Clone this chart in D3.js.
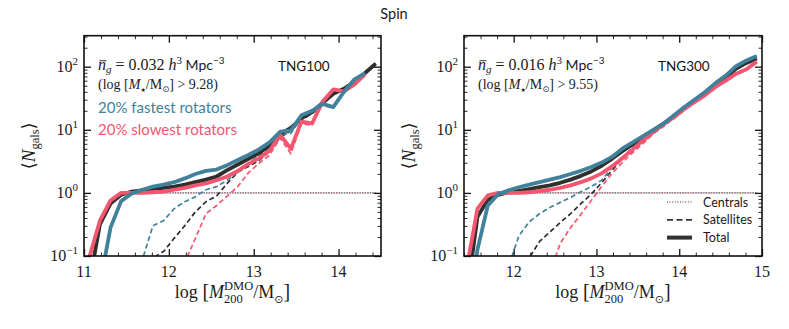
<!DOCTYPE html>
<html lang="en">
<head>
<meta charset="UTF-8">
<title>Spin</title>
<script src="https://d3js.org/d3.v7.min.js"></script>
<style>
  body { margin: 0; background: #fff; }
  .sans { font-family: Lato, "DejaVu Sans", sans-serif; }
  .serif { font-family: "Liberation Serif", "DejaVu Serif", serif; }
  .sym { font-family: "DejaVu Sans", sans-serif; }
</style>
</head>
<body>
<svg id="chart" width="789" height="329"></svg>
<script>
// halo mass bin centres, log10 [M200 / Msun]
const massBins100 = [11.0625, 11.1875, 11.3125, 11.4375, 11.5625, 11.6875, 11.8125, 11.9375, 12.0625, 12.1875,
  12.3125, 12.4375, 12.5625, 12.6875, 12.8125, 12.9375, 13.0625, 13.1875, 13.3125, 13.4375,
  13.5625, 13.6875, 13.8125, 13.9375, 14.0625, 14.1875, 14.3125, 14.4375];
const massBins300 = [11.4375, 11.5625, 11.6875, 11.8125, 11.9375, 12.0625, 12.1875, 12.3125, 12.4375, 12.5625,
  12.6875, 12.8125, 12.9375, 13.0625, 13.1875, 13.3125, 13.4375, 13.5625, 13.6875, 13.8125,
  13.9375, 14.0625, 14.1875, 14.3125, 14.4375, 14.5625, 14.6875, 14.8125, 14.9375];

// log10 <N_gals>, TNG100
const tng100AllTotal = [-1.43, -0.5, -0.17, -0.03, 0.02, 0.04, 0.06, 0.08, 0.1, 0.13, 0.17, 0.21, 0.26, 0.36, 0.45, 0.54, 0.63, 0.75, 0.93, 1.03, 1.18, 1.28, 1.43, 1.57, 1.65, 1.76, 1.9, 2.05];
const tng100FastTotal = [-2, -1.45, -0.55, -0.13, -0.01, 0.05, 0.1, 0.13, 0.17, 0.23, 0.3, 0.35, 0.37, 0.44, 0.52, 0.6, 0.69, 0.8, 0.97, 0.99, 1.23, 1.3, 1.41, 1.36, 1.6, 1.8, 1.9, null];
const tng100SlowTotal = [-1.02, -0.44, -0.12, 0, 0, 0, 0.01, 0.02, 0.05, 0.08, 0.12, 0.15, 0.2, 0.26, 0.35, 0.46, 0.55, 0.67, 0.92, 0.7, 1.13, 1.1, 1.45, 1.64, 1.61, 1.72, 1.88, null];
const tng100AllSat = [null, null, null, null, null, -2, -1.03, -0.93, -0.72, -0.52, -0.3, -0.14, -0.05, 0.15, 0.33, 0.42, 0.51, 0.665, 0.876, 0.987, 1.15, 1.26, 1.41, 1.56, 1.64, 1.75, 1.9, 2.05];
const tng100FastSat = [null, null, null, null, -2, -1.06, -0.52, -0.44, -0.25, -0.14, -0.06, 0.05, 0.1, 0.2, 0.33, 0.47, 0.59, 0.725, 0.92, 0.943, 1.2, 1.278, 1.393, 1.34, 1.589, 1.793, 1.894, null];
const tng100SlowSat = [null, null, null, null, null, null, null, null, -2, -1.1, -0.72, -0.33, -0.2, -0.05, 0.1, 0.32, 0.47, 0.6, 0.87, 0.62, 1.1, 1.07, 1.43, 1.63, 1.6, 1.71, 1.87, null];
const tng100AllCen = [-1.43, -0.5, -0.17, -0.03, 0, 0, 0, 0, 0, 0, 0, 0, 0, 0, 0, 0, 0, 0, 0, 0, 0, 0, 0, 0, 0, 0, 0, 0];
const tng100FastCen = [-2, -1.45, -0.55, -0.13, -0.01, 0, 0, 0, 0, 0, 0, 0, 0, 0, 0, 0, 0, 0, 0, 0, 0, 0, 0, 0, 0, 0, 0, 0];
const tng100SlowCen = [-1.02, -0.44, -0.12, 0, 0, 0, 0, 0, 0, 0, 0, 0, 0, 0, 0, 0, 0, 0, 0, 0, 0, 0, 0, 0, 0, 0, 0, 0];

// log10 <N_gals>, TNG300
const tng300AllTotal = [-1.6, -0.38, -0.11, -0.03, 0.01, 0.03, 0.06, 0.09, 0.12, 0.16, 0.21, 0.27, 0.34, 0.43, 0.54, 0.66, 0.77, 0.88, 0.99, 1.1, 1.22, 1.34, 1.46, 1.58, 1.71, 1.83, 1.97, 2.06, 2.13];
const tng300FastTotal = [-2, -0.9, -0.2, -0.02, 0.04, 0.09, 0.13, 0.17, 0.21, 0.25, 0.3, 0.35, 0.41, 0.48, 0.57, 0.7, 0.8, 0.9, 1.0, 1.1, 1.23, 1.36, 1.48, 1.6, 1.74, 1.86, 2.01, 2.1, 2.17];
const tng300SlowTotal = [-1.16, -0.25, -0.04, 0, 0, 0, 0.01, 0.03, 0.05, 0.08, 0.12, 0.17, 0.23, 0.31, 0.42, 0.55, 0.69, 0.83, 0.97, 1.09, 1.2, 1.33, 1.44, 1.55, 1.68, 1.78, 1.89, 1.96, 2.08];
const tng300AllSat = [null, null, null, null, null, -2, -1.03, -0.77, -0.62, -0.47, -0.33, -0.17, -0.02, 0.16, 0.36, 0.54, 0.67, 0.81, 0.94, 1.06, 1.19, 1.32, 1.44, 1.57, 1.7, 1.82, 1.96, 2.05, 2.12];
const tng300FastSat = [null, null, null, -2, -1.17, -0.68, -0.46, -0.33, -0.23, -0.15, -0.07, 0.02, 0.1, 0.2, 0.4, 0.56, 0.72, 0.84, 0.95, 1.07, 1.21, 1.34, 1.47, 1.59, 1.73, 1.85, 2.0, 2.09, 2.16];
const tng300SlowSat = [null, null, null, null, null, null, null, -2, -1.28, -0.8, -0.55, -0.34, -0.12, 0.1, 0.31, 0.48, 0.64, 0.78, 0.94, 1.07, 1.18, 1.31, 1.43, 1.54, 1.67, 1.77, 1.88, 1.95, 2.07];
const tng300AllCen = [-1.6, -0.38, -0.11, -0.03, 0, 0, 0, 0, 0, 0, 0, 0, 0, 0, 0, 0, 0, 0, 0, 0, 0, 0, 0, 0, 0, 0, 0, 0, 0];
const tng300FastCen = [-2, -0.9, -0.2, -0.02, 0, 0, 0, 0, 0, 0, 0, 0, 0, 0, 0, 0, 0, 0, 0, 0, 0, 0, 0, 0, 0, 0, 0, 0, 0];
const tng300SlowCen = [-1.16, -0.25, -0.04, 0, 0, 0, 0, 0, 0, 0, 0, 0, 0, 0, 0, 0, 0, 0, 0, 0, 0, 0, 0, 0, 0, 0, 0, 0, 0];

const xTicks100 = [11, 12, 13, 14];
const xTicks300 = [12, 13, 14, 15];
const yTicks = [0.1, 1, 10, 100];
const yTickExp = ["\u22121", "0", "1", "2"];
const legendLabels = ["Centrals", "Satellites", "Total"];

const colAll = "#2f2f2f", colFast = "#41819b", colSlow = "#f4566f";

const svg = d3.select("#chart");

// place math-like text piece by piece
function drawMath(parent, pieces, x, y, anchor) {
    const g = parent.append("g");
    let cx = 0;
    pieces.forEach(p => {
        const stack = Array.isArray(p) ? p : [p];
        let w = 0;
        stack.forEach(q => {
            const t = g.append("text")
                .attr("x", cx).attr("y", q.dy || 0)
                .attr("class", q.cls || "serif")
                .style("font-size", q.size + "px")
                .style("font-style", q.it ? "italic" : "normal")
                .attr("fill", q.fill || "#1a1a1a")
                .text(q.t);
            const tw = t.node().getComputedTextLength();
            if (q.bar) {
                g.append("line")
                    .attr("x1", cx + 1.5).attr("x2", cx + tw + 0.5)
                    .attr("y1", -q.size * 0.58).attr("y2", -q.size * 0.58)
                    .attr("stroke", "#1a1a1a").attr("stroke-width", 0.9);
            }
            w = Math.max(w, tw);
        });
        cx += w;
    });
    const shift = anchor === "middle" ? -cx / 2 : anchor === "end" ? -cx : 0;
    g.attr("transform", `translate(${x + shift},${y})`);
    return g;
}

svg.append("text").attr("class", "sans")
    .attr("x", 394).attr("y", 19).attr("text-anchor", "middle")
    .style("font-size", "14.5px").attr("fill", "#1a1a1a").text("Spin");

function drawPanel(o) {
    const top = 35.7, bottom = 256;
    const x = d3.scaleLinear().domain(o.xDomain).range([o.left, o.right]);
    const y = d3.scaleLog().domain([0.1, 310]).range([bottom, top]);
    const g = svg.append("g");

    g.append("clipPath").attr("id", o.id).append("rect")
        .attr("x", o.left).attr("y", top).attr("width", o.right - o.left).attr("height", bottom - top);

    const line = d3.line()
        .defined(d => d[1] != null)
        .x(d => x(d[0])).y(d => y(10 ** d[1]));

    const plot = g.append("g").attr("clip-path", `url(#${o.id})`);
    const styles = {
        cen: { w: 1, dash: "1,1.6" },
        sat: { w: 1.7, dash: "5,3" },
        tot: { w: 3.8, dash: null }
    };
    ["cen", "sat", "tot"].forEach(kind => {
        [["all", colAll], ["slow", colSlow], ["fast", colFast]].forEach(([k, c]) => {
            const vals = o.series[kind][k];
            plot.append("path")
                .datum(o.bins.map((m, i) => [m, vals[i]]))
                .attr("d", line)
                .attr("fill", "none")
                .attr("stroke", c)
                .attr("stroke-width", styles[kind].w)
                .attr("stroke-dasharray", styles[kind].dash)
                .attr("stroke-linejoin", "round");
        });
    });

    // ticks on all four sides
    const minorX = d3.range(o.xDomain[0], o.xDomain[1] + 0.001, 0.2)
        .filter(v => Math.abs(v - Math.round(v)) > 0.01);
    const minorY = [];
    [0.1, 1, 10, 100].forEach(d => d3.range(2, 10).forEach(k => { if (d * k <= 310) minorY.push(d * k); }));

    const axes = [
        [d3.axisBottom, `translate(0,${bottom})`, x, o.xTicks, minorX],
        [d3.axisTop, `translate(0,${top})`, x, o.xTicks, minorX],
        [d3.axisLeft, `translate(${o.left},0)`, y, yTicks, minorY],
        [d3.axisRight, `translate(${o.right},0)`, y, yTicks, minorY]
    ];
    axes.forEach(([ax, tr, sc, major, minor]) => {
        g.append("g").attr("transform", tr)
            .call(ax(sc).tickValues(minor).tickSize(-3.5).tickFormat(""))
            .call(s => s.select(".domain").remove())
            .call(s => s.selectAll("line").attr("stroke", "#111").attr("stroke-width", 0.9));
        g.append("g").attr("transform", tr)
            .call(ax(sc).tickValues(major).tickSize(-7).tickFormat(""))
            .call(s => s.select(".domain").remove())
            .call(s => s.selectAll("line").attr("stroke", "#111").attr("stroke-width", 1.3));
    });

    g.append("rect")
        .attr("x", o.left).attr("y", top).attr("width", o.right - o.left).attr("height", bottom - top)
        .attr("fill", "none").attr("stroke", "#111").attr("stroke-width", 1.6);

    // tick labels
    o.xTicks.forEach(v => {
        g.append("text").attr("class", "serif")
            .attr("x", x(v)).attr("y", 277).attr("text-anchor", "middle")
            .style("font-size", "16px").attr("fill", "#1a1a1a").text(v);
    });
    yTicks.forEach((v, i) => {
        drawMath(g, [{ t: "10", size: 16 }, { t: yTickExp[i], size: 11, dy: -7 }], o.left - 6, y(v) + 5, "end");
    });

    // axis labels
    drawMath(g, [
        { t: "log\u00a0", size: 18 }, { t: "[", size: 20 }, { t: "M", size: 18, it: true },
        [{ t: "200", size: 12.5, dy: 5 }, { t: "DMO", size: 12.5, dy: -8 }],
        { t: "/M", size: 18 }, { t: "\u2299", size: 11, dy: 5, cls: "sym" }, { t: "]", size: 20 }
    ], (o.left + o.right) / 2, 298, "middle");

    const yl = g.append("g").attr("transform", `translate(${o.left - 49},${(top + bottom) / 2}) rotate(-90)`);
    drawMath(yl, [
        { t: "\u27e8", size: 18, cls: "sym" }, { t: "N", size: 19, it: true }, { t: "gals", size: 12.5, dy: 4 }, { t: "\u27e9", size: 18, cls: "sym" }
    ], 0, 0, "middle");

    // annotations
    drawMath(g, [
        { t: "n", size: 16, it: true, bar: true }, { t: "g", size: 11, it: true, dy: 3 },
        { t: "\u00a0=\u00a0" + o.density + "\u00a0", size: 16 }, { t: "h", size: 16, it: true },
        { t: "3", size: 11, dy: -6.5 }, { t: "\u00a0Mpc", size: 14, cls: "sans" }, { t: "\u22123", size: 10, cls: "sans", dy: -6.5 }
    ], o.left + 14, 70, "start");
    drawMath(g, [
        { t: "(log\u00a0[", size: 14 }, { t: "M", size: 14, it: true }, { t: "\u2605", size: 6, dy: 2.5, cls: "sym" },
        { t: "/M", size: 14 }, { t: "\u2299", size: 8.5, dy: 3, cls: "sym" }, { t: "]\u00a0>\u00a0" + o.cut + ")", size: 14 }
    ], o.left + 14, 89, "start");
    g.append("text").attr("class", "sans")
        .attr("x", o.tagX).attr("y", 71)
        .style("font-size", "13.5px").attr("fill", "#111").text(o.tag);

    return { g, x, y };
}

const p1 = drawPanel({
    id: "clip100", left: 84, right: 381, xDomain: [11, 14.5], xTicks: xTicks100, bins: massBins100,
    density: "0.032", cut: "9.28", tag: "TNG100", tagX: 278,
    series: {
        tot: { all: tng100AllTotal, fast: tng100FastTotal, slow: tng100SlowTotal },
        sat: { all: tng100AllSat, fast: tng100FastSat, slow: tng100SlowSat },
        cen: { all: tng100AllCen, fast: tng100FastCen, slow: tng100SlowCen }
    }
});
const p2 = drawPanel({
    id: "clip300", left: 464, right: 762, xDomain: [11.4, 15], xTicks: xTicks300, bins: massBins300,
    density: "0.016", cut: "9.55", tag: "TNG300", tagX: 658,
    series: {
        tot: { all: tng300AllTotal, fast: tng300FastTotal, slow: tng300SlowTotal },
        sat: { all: tng300AllSat, fast: tng300FastSat, slow: tng300SlowSat },
        cen: { all: tng300AllCen, fast: tng300FastCen, slow: tng300SlowCen }
    }
});

p1.g.append("text").attr("class", "sans").attr("x", 98).attr("y", 113)
    .style("font-size", "15px").attr("fill", colFast).text("20% fastest rotators");
p1.g.append("text").attr("class", "sans").attr("x", 98).attr("y", 135)
    .style("font-size", "15px").attr("fill", colSlow).text("20% slowest rotators");

// legend
const legendStyles = [
    { w: 1, dash: "1,1.6" },
    { w: 1.8, dash: "6,3.5" },
    { w: 4, dash: null }
];
legendLabels.forEach((lab, i) => {
    const ly = 202 + i * 17.8;
    p2.g.append("line")
        .attr("x1", 667).attr("x2", 692).attr("y1", ly).attr("y2", ly)
        .attr("stroke", "#333").attr("stroke-width", legendStyles[i].w)
        .attr("stroke-dasharray", legendStyles[i].dash);
    p2.g.append("text").attr("class", "sans")
        .attr("x", 703).attr("y", ly + 4.5)
        .style("font-size", "12.5px").attr("fill", "#1a1a1a").text(lab);
});
</script>
</body>
</html>
